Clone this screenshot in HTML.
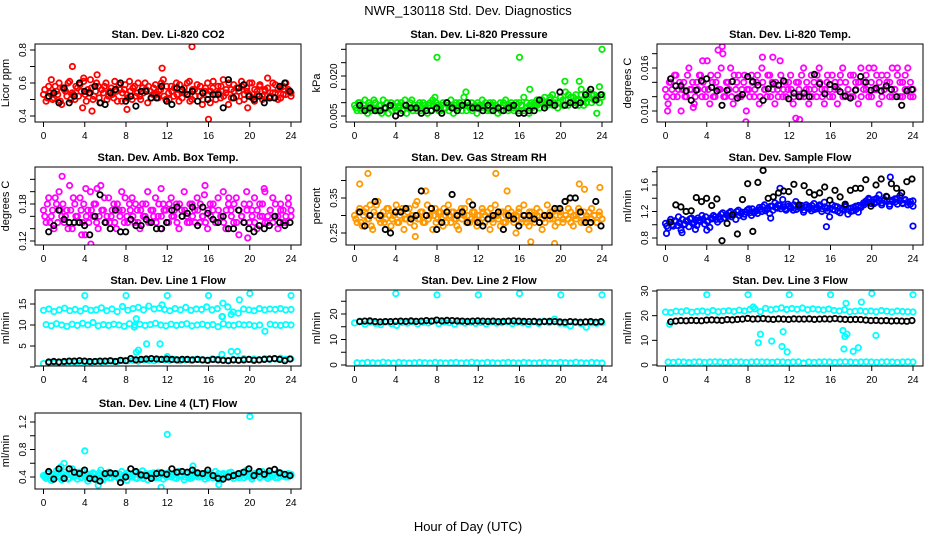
<!DOCTYPE html>
<html><head><meta charset="utf-8"><style>
html,body{margin:0;padding:0;background:#fff;}
svg{display:block;font-family:"Liberation Sans",Arial,sans-serif;}
</style></head><body>
<svg id="chart" width="936" height="540" viewBox="0 0 936 540" xmlns="http://www.w3.org/2000/svg">
<text x="468" y="15" text-anchor="middle" font-size="13">NWR_130118 Std. Dev. Diagnostics</text>
<text x="468" y="531" text-anchor="middle" font-size="13">Hour of Day (UTC)</text>
</svg>
<script>
// ---- data ----
const xTicks = [0,4,8,12,16,20,24];
const p1Color = [0.53,0.49,0.58,0.62,0.51,0.55,0.6,0.47,0.56,0.52,0.61,0.54,0.5,0.57,0.59,0.45,0.53,0.56,0.62,0.5,0.55,0.58,0.48,0.54,0.6,0.52,0.57,0.51,0.55,0.59,0.49,0.56,0.53,0.61,0.5,0.58,0.54,0.52,0.57,0.6,0.48,0.55,0.53,0.59,0.51,0.56,0.62,0.5,0.54,0.58,0.52,0.6,0.49,0.55,0.57,0.53,0.61,0.5,0.56,0.59,0.52,0.47,0.55,0.6,0.48,0.57,0.53,0.58,0.51,0.62,0.54,0.47,0.56,0.59,0.52,0.55,0.61,0.5,0.57,0.53,0.6,0.49,0.55,0.58,0.52,0.56,0.63,0.51,0.54,0.59,0.5,0.57,0.53,0.6,0.55,0.52];
const p1Color2 = [0.56,0.51,0.54,0.5,0.58,0.53,0.49,0.57,0.55,0.6,0.5,0.53,0.58,0.52,0.55,0.61,0.49,0.54,0.57,0.52,0.6,0.51,0.56,0.58,0.5,0.55,0.53,0.61,0.49,0.56,0.54,0.59,0.51,0.55,0.57,0.52,0.6,0.5,0.54,0.56,0.58,0.51,0.57,0.53,0.55,0.6,0.52,0.58,0.5,0.55,0.57,0.53,0.59,0.51,0.54,0.6,0.49,0.56,0.52,0.55,0.58,0.5,0.57,0.53,0.55,0.61,0.5,0.54,0.58,0.52,0.56,0.6,0.51,0.55,0.57,0.49,0.58,0.53,0.55,0.6,0.51,0.56,0.53,0.59,0.5,0.55,0.57,0.52,0.6,0.54,0.56,0.51,0.58,0.53,0.56,0.54];
const p1OutH = [2.8,11.5,14.4,4.7,16,8.1,19.8,3.9,5.2];
const p1OutV = [0.70,0.69,0.82,0.43,0.38,0.44,0.45,0.63,0.65];
const p1Black = [0.52,0.54,0.48,0.57,0.48,0.52,0.6,0.55,0.54,0.58,0.48,0.47,0.54,0.56,0.6,0.49,0.52,0.46,0.55,0.55,0.51,0.51,0.58,0.49,0.47,0.57,0.56,0.53,0.55,0.49,0.54,0.5,0.53,0.53,0.45,0.62,0.51,0.57,0.59,0.52,0.5,0.52,0.48,0.51,0.51,0.58,0.6,0.55];

const p2Color = [0.009,0.007,0.010,0.008,0.011,0.006,0.009,0.008,0.010,0.007,0.009,0.011,0.008,0.006,0.010,0.009,0.007,0.008,0.010,0.009,0.006,0.008,0.011,0.009,0.007,0.010,0.008,0.009,0.006,0.010,0.011,0.008,0.009,0.007,0.010,0.008,0.009,0.011,0.006,0.010,0.008,0.009,0.012,0.007,0.009,0.010,0.008,0.006,0.009,0.011,0.008,0.007,0.010,0.009,0.008,0.006,0.010,0.009,0.011,0.007,0.009,0.008,0.010,0.007,0.009,0.012,0.008,0.006,0.010,0.009,0.011,0.008,0.010,0.012,0.009,0.011,0.013,0.010,0.008,0.012,0.011,0.014,0.009,0.012,0.010,0.013,0.011,0.015,0.009,0.012,0.014,0.010,0.013,0.011,0.016,0.012];
const p2Color2 = [0.008,0.010,0.007,0.009,0.008,0.010,0.007,0.011,0.008,0.009,0.006,0.008,0.010,0.009,0.007,0.008,0.010,0.009,0.007,0.011,0.008,0.010,0.007,0.008,0.009,0.007,0.010,0.008,0.009,0.007,0.009,0.010,0.007,0.009,0.008,0.010,0.007,0.008,0.009,0.008,0.010,0.007,0.009,0.010,0.008,0.007,0.009,0.010,0.008,0.009,0.010,0.008,0.007,0.010,0.009,0.008,0.007,0.010,0.008,0.009,0.010,0.007,0.008,0.010,0.009,0.007,0.010,0.009,0.008,0.010,0.009,0.010,0.011,0.009,0.010,0.012,0.009,0.011,0.010,0.012,0.009,0.011,0.013,0.010,0.012,0.011,0.009,0.013,0.011,0.010,0.012,0.013,0.011,0.012,0.010,0.013];
const p2OutH = [8,16,24,17,20.4,21.8,23.5,10.8,7.8];
const p2OutV = [0.027,0.027,0.030,0.015,0.018,0.018,0.006,0.014,0.012];
const p2Black = [0.009,0.007,0.008,0.007,0.007,0.008,0.009,0.005,0.006,0.009,0.008,0.008,0.006,0.007,0.007,0.008,0.006,0.010,0.008,0.007,0.009,0.010,0.008,0.008,0.007,0.009,0.007,0.008,0.007,0.008,0.009,0.006,0.006,0.007,0.007,0.011,0.008,0.010,0.009,0.014,0.009,0.010,0.009,0.010,0.013,0.015,0.011,0.013];

const p3Color = [0.013,0.011,0.014,0.012,0.015,0.013,0.010,0.014,0.012,0.016,0.013,0.011,0.014,0.015,0.012,0.013,0.017,0.011,0.014,0.012,0.015,0.013,0.018,0.012,0.014,0.016,0.011,0.013,0.015,0.012,0.014,0.010,0.013,0.015,0.012,0.014,0.011,0.016,0.013,0.012,0.015,0.014,0.011,0.013,0.017,0.012,0.014,0.013,0.015,0.011,0.009,0.014,0.012,0.016,0.013,0.011,0.015,0.014,0.012,0.016,0.013,0.011,0.014,0.012,0.015,0.013,0.011,0.014,0.016,0.012,0.013,0.015,0.012,0.014,0.011,0.016,0.013,0.015,0.012,0.014,0.016,0.013,0.011,0.015,0.013,0.014,0.012,0.016,0.013,0.015,0.012,0.014,0.013,0.016,0.012,0.013];
const p3Color2 = [0.012,0.014,0.013,0.015,0.012,0.014,0.013,0.012,0.015,0.013,0.014,0.012,0.013,0.015,0.014,0.012,0.013,0.015,0.012,0.014,0.013,0.016,0.012,0.014,0.013,0.012,0.015,0.014,0.012,0.013,0.015,0.013,0.012,0.014,0.013,0.015,0.012,0.014,0.013,0.015,0.012,0.013,0.014,0.012,0.015,0.013,0.012,0.014,0.013,0.012,0.014,0.013,0.015,0.012,0.014,0.013,0.012,0.013,0.015,0.014,0.012,0.013,0.015,0.013,0.012,0.014,0.013,0.015,0.012,0.014,0.013,0.012,0.015,0.013,0.014,0.012,0.014,0.013,0.016,0.012,0.013,0.015,0.014,0.012,0.013,0.015,0.014,0.012,0.013,0.016,0.014,0.012,0.015,0.013,0.014,0.012];
const p3OutH = [5.1,5.5,9.4,10.4,7.8,13,0.2,3.6,2.7];
const p3OutV = [0.0185,0.019,0.0175,0.0175,0.0085,0.0088,0.0100,0.0170,0.0105];
const p3Black = [0.0145,0.0135,0.0135,0.0128,0.0115,0.0129,0.0142,0.0145,0.0133,0.0128,0.0108,0.0129,0.0141,0.0118,0.0123,0.0148,0.0141,0.0136,0.0115,0.0131,0.0138,0.0136,0.0142,0.0117,0.0125,0.0120,0.0125,0.0120,0.0151,0.0138,0.0124,0.0137,0.0134,0.0127,0.0121,0.0118,0.0129,0.0148,0.0140,0.0129,0.0132,0.0128,0.0135,0.0130,0.0120,0.0108,0.0128,0.0130];

const p4Color = [0.17,0.15,0.19,0.16,0.14,0.18,0.2,0.16,0.15,0.17,0.21,0.14,0.18,0.16,0.19,0.15,0.13,0.17,0.2,0.16,0.18,0.14,0.21,0.17,0.15,0.19,0.16,0.18,0.14,0.17,0.2,0.15,0.16,0.18,0.19,0.15,0.17,0.14,0.18,0.16,0.2,0.15,0.17,0.19,0.16,0.14,0.18,0.17,0.15,0.19,0.16,0.18,0.14,0.17,0.2,0.16,0.15,0.18,0.17,0.19,0.15,0.16,0.21,0.14,0.18,0.17,0.15,0.19,0.16,0.2,0.14,0.18,0.17,0.15,0.19,0.13,0.16,0.18,0.2,0.15,0.17,0.19,0.14,0.18,0.16,0.2,0.15,0.17,0.19,0.16,0.14,0.18,0.17,0.15,0.19,0.16];
const p4Color2 = [0.16,0.18,0.15,0.17,0.19,0.15,0.17,0.18,0.16,0.14,0.17,0.19,0.16,0.15,0.17,0.18,0.16,0.15,0.17,0.18,0.15,0.16,0.17,0.19,0.16,0.15,0.17,0.15,0.18,0.16,0.17,0.19,0.15,0.17,0.16,0.18,0.15,0.17,0.16,0.18,0.15,0.17,0.16,0.15,0.18,0.16,0.17,0.15,0.18,0.16,0.17,0.15,0.18,0.16,0.17,0.15,0.18,0.16,0.15,0.17,0.18,0.16,0.15,0.17,0.16,0.18,0.15,0.17,0.16,0.15,0.17,0.19,0.16,0.18,0.15,0.17,0.16,0.15,0.17,0.18,0.16,0.15,0.17,0.16,0.18,0.15,0.16,0.17,0.15,0.18,0.16,0.17,0.15,0.16,0.18,0.17];
const p4OutH = [1.8,4.1,5.2,4.6,21.4,19.8,3.7,11.4,15.6];
const p4OutV = [0.225,0.205,0.205,0.115,0.205,0.125,0.13,0.205,0.195];
const p4Black = [0.135,0.145,0.17,0.155,0.15,0.15,0.15,0.145,0.13,0.16,0.195,0.15,0.14,0.17,0.135,0.135,0.155,0.145,0.145,0.155,0.15,0.14,0.14,0.15,0.17,0.175,0.16,0.165,0.175,0.145,0.175,0.165,0.155,0.15,0.16,0.14,0.14,0.17,0.15,0.14,0.135,0.145,0.14,0.145,0.16,0.15,0.145,0.15];

const p5Color = [0.30,0.28,0.32,0.27,0.31,0.29,0.33,0.26,0.30,0.34,0.28,0.31,0.29,0.32,0.27,0.30,0.33,0.28,0.31,0.26,0.29,0.32,0.30,0.27,0.34,0.29,0.31,0.28,0.33,0.30,0.26,0.32,0.29,0.31,0.27,0.30,0.33,0.28,0.31,0.29,0.26,0.32,0.30,0.28,0.34,0.29,0.31,0.27,0.30,0.32,0.28,0.31,0.26,0.29,0.33,0.30,0.27,0.31,0.28,0.32,0.29,0.30,0.25,0.31,0.28,0.33,0.29,0.27,0.31,0.30,0.32,0.28,0.26,0.30,0.33,0.29,0.31,0.27,0.32,0.30,0.28,0.34,0.29,0.31,0.27,0.30,0.32,0.28,0.31,0.29,0.26,0.32,0.30,0.28,0.31,0.29];
const p5Color2 = [0.29,0.31,0.28,0.30,0.32,0.29,0.27,0.31,0.33,0.29,0.30,0.28,0.32,0.30,0.29,0.31,0.28,0.30,0.32,0.29,0.31,0.28,0.30,0.33,0.29,0.31,0.28,0.30,0.29,0.32,0.30,0.28,0.31,0.29,0.32,0.28,0.30,0.31,0.29,0.27,0.31,0.29,0.32,0.30,0.28,0.31,0.29,0.30,0.28,0.31,0.30,0.29,0.32,0.28,0.30,0.29,0.31,0.28,0.30,0.29,0.31,0.28,0.30,0.32,0.29,0.30,0.28,0.31,0.29,0.28,0.30,0.31,0.29,0.28,0.30,0.31,0.29,0.30,0.28,0.31,0.29,0.30,0.32,0.28,0.30,0.29,0.31,0.30,0.28,0.30,0.31,0.29,0.30,0.28,0.30,0.29];
const p5OutH = [0.5,1.3,13.7,6.9,14.8,21.8,22.3,23.8,19.4,5.9,17.1];
const p5OutV = [0.39,0.42,0.42,0.37,0.37,0.39,0.375,0.38,0.22,0.24,0.225];
const p5Black = [0.31,0.27,0.3,0.34,0.3,0.26,0.25,0.31,0.31,0.32,0.29,0.3,0.37,0.3,0.32,0.26,0.28,0.31,0.36,0.3,0.31,0.28,0.33,0.28,0.27,0.29,0.3,0.31,0.26,0.3,0.29,0.27,0.3,0.3,0.29,0.28,0.3,0.3,0.32,0.32,0.34,0.35,0.35,0.31,0.28,0.28,0.34,0.27];

const p6Color = [1.02,0.95,1.08,0.98,1.05,1.12,0.92,1.0,1.06,0.97,1.1,1.03,0.99,1.07,1.14,1.01,1.05,0.96,1.09,1.12,1.04,1.08,1.18,1.1,1.13,1.2,1.15,1.08,1.22,1.17,1.12,1.19,1.24,1.14,1.18,1.21,1.26,1.2,1.3,1.23,1.17,1.28,1.33,1.25,1.29,1.38,1.24,1.31,1.27,1.22,1.35,1.28,1.25,1.19,1.3,1.26,1.21,1.32,1.24,1.28,1.2,1.34,1.25,1.12,1.3,1.22,1.27,1.18,1.24,1.29,1.16,1.25,1.21,1.28,1.19,1.26,1.33,1.36,1.4,1.32,1.38,1.34,1.45,1.3,1.36,1.42,1.28,1.35,1.39,1.31,1.44,1.33,1.37,1.3,1.35,1.28];
const p6Color2 = [0.98,1.04,1.0,1.06,0.99,1.03,1.08,1.01,1.05,1.09,1.02,1.07,1.1,1.05,1.08,1.12,1.06,1.1,1.14,1.08,1.12,1.16,1.1,1.15,1.18,1.12,1.16,1.2,1.14,1.19,1.16,1.22,1.18,1.24,1.2,1.17,1.23,1.27,1.21,1.25,1.28,1.22,1.26,1.3,1.24,1.27,1.22,1.28,1.25,1.3,1.23,1.26,1.29,1.22,1.27,1.24,1.29,1.23,1.26,1.3,1.24,1.27,1.21,1.25,1.23,1.28,1.2,1.25,1.22,1.27,1.24,1.2,1.26,1.23,1.29,1.28,1.3,1.34,1.38,1.35,1.32,1.4,1.36,1.33,1.38,1.35,1.31,1.37,1.34,1.4,1.36,1.32,1.38,1.34,1.31,1.36];
const p6OutH = [0.1,1.6,2.9,4.0,10.2,15.6,21.8,24.0,11.1];
const p6OutV = [0.87,0.88,0.93,0.92,1.1,0.97,1.72,0.98,1.55];
const p6Black = [1.04,1.3,1.27,1.2,1.21,1.41,1.35,1.4,1.29,1.39,0.76,1.02,1.15,0.86,1.38,1.62,0.9,1.64,1.82,1.4,1.42,1.48,1.51,1.5,1.61,1.3,1.59,1.49,1.45,1.48,1.57,1.37,1.52,1.42,1.31,1.52,1.55,1.55,1.68,1.28,1.6,1.69,1.43,1.62,1.55,1.48,1.65,1.69];

const p7Upper = [13.5,13.8,13.2,13.6,14.0,13.4,13.7,13.3,13.9,13.5,13.6,14.1,13.4,13.8,13.2,14.4,13.5,13.9,14.2,13.6,14.5,13.8,14.0,13.7,13.4,13.9,13.6,14.2,13.5,13.8,13.7,14.3,13.6,13.9,12.0,14.3,13.1,12.8,13.8,13.6,13.4,13.9,13.6,13.8,13.7,13.9,13.6,13.7];
const p7Middle = [10.1,9.8,10.3,10.0,9.7,10.2,9.9,10.4,10.0,10.6,9.8,10.1,9.9,10.2,10.0,9.7,10.3,10.0,10.2,9.9,10.1,10.4,10.0,9.8,10.2,9.9,10.1,10.3,9.8,10.0,10.2,9.9,10.1,9.6,10.3,10.0,9.9,10.2,10.0,10.1,9.8,10.0,8.5,10.2,10.0,9.9,10.1,10.0];
const p7Lower = [0.8,1.0,0.9,1.1,1.0,1.2,1.1,1.0,1.2,1.1,1.3,1.2,1.3,1.4,1.3,1.5,1.5,1.6,1.4,1.7,1.6,1.5,1.8,1.7,1.6,1.8,1.5,1.7,1.6,1.8,1.7,1.6,1.9,1.8,1.7,1.6,1.8,1.7,2.0,1.8,1.9,1.7,2.0,1.8,1.9,2.1,1.8,1.9];
const p7OutH = [4,8,12,16,20,24,9,10,11.3,9.2,9,18.2,18.8,17.3,12,17.4,18.2,17.3,19,11.5,8.8];
const p7OutV = [17,17,17,17,17.5,17,11.5,5.5,5.5,4,3.5,3.7,3.7,3,2.5,15.2,12.5,12,16,14.8,9.5];
const p7Black = [1.2,1.3,1.2,1.3,1.4,1.4,1.5,1.4,1.3,1.3,1.4,1.4,1.5,1.3,1.6,1.5,2.0,1.7,1.8,1.9,2.0,1.9,1.8,1.9,1.8,1.7,1.8,1.8,1.7,1.8,1.7,1.6,1.8,1.7,1.6,1.5,1.7,1.6,1.7,1.8,1.6,1.7,1.8,1.9,2.0,1.8,1.5,1.9];

const p8Upper = [16.5,17.2,16.0,16.8,16.3,15.8,16.9,16.2,15.5,16.7,16.4,17.0,16.1,16.8,16.5,17.3,16.2,16.9,16.6,16.0,17.1,16.4,16.8,16.3,16.7,16.1,16.9,16.4,16.6,17.0,16.2,16.8,16.5,16.0,16.9,16.3,17.2,16.6,18.0,16.4,16.1,15.3,16.7,16.2,14.8,16.5,16.3,16.6];
const p8Lower = [0.9,0.8,1.0,0.9,0.8,1.1,0.9,0.8,1.0,0.9,0.8,0.9,1.0,0.9,0.8,1.0,0.9,0.8,0.9,1.0,0.8,0.9,1.1,0.9,0.8,1.0,0.9,0.8,0.9,1.0,0.9,0.8,1.0,0.9,0.8,0.9,1.0,0.9,0.8,1.0,0.9,0.8,1.1,0.9,0.8,1.0,0.9,0.8];
const p8OutH = [4,8,12,16,20,24];
const p8OutV = [28,27.5,27.5,28,27.5,27.5];
const p8Black = [17,17.2,17.3,17,16.9,17,17,17.1,17.2,17.1,17.3,17.1,17.2,17.4,17.2,17.6,17.3,17.5,17.4,17.3,17.2,17.1,17.2,17.3,17.2,17.1,17.2,17.0,17.1,17.2,17.3,17.2,17.1,17.0,17.1,16.9,17.0,17.1,17.0,16.9,16.8,17.0,16.9,16.8,16.9,17.0,16.8,17.0];

const p9Upper = [21.5,21.3,21.8,21.6,22.0,21.4,21.7,21.9,21.5,22.1,21.6,21.8,22.0,21.7,22.2,21.9,22.5,22.8,21.6,23.0,22.4,22.7,23.2,22.5,22.9,22.6,23.1,22.4,22.8,22.5,22.3,22.7,22.1,21.9,22.4,21.6,21.8,22.0,21.7,21.9,21.6,22.1,21.8,21.5,21.9,21.7,21.6,21.5];
const p9Lower = [1.2,1.1,1.3,1.2,1.0,1.2,1.3,1.1,1.2,1.3,1.2,1.1,1.2,1.3,1.2,1.1,1.2,1.3,1.2,1.2,1.1,1.3,1.2,1.1,1.2,1.3,0.8,1.2,1.1,1.2,1.3,1.2,1.1,1.2,1.3,1.2,1.1,1.2,1.3,1.2,1.1,1.2,1.3,1.2,1.1,1.2,1.3,1.2];
const p9OutH = [4,8,12,16,20,24,9,9.2,10.3,11.3,11.4,11.8,17.2,17.4,17.6,17.3,18.2,18.7,19,17.5,20.4,8.5,0.4];
const p9OutV = [28.5,28.5,28.5,28.5,29,28.5,9,12.5,9.7,7.5,13.5,5.3,14,11.5,12.5,6.5,5.5,7,25.5,25,12,23.5,16.5];
const p9Black = [17.5,17.8,18,17.9,18.1,18,17.9,18.2,18.3,18.2,18.1,18.4,18.3,18.5,18.6,18.9,18.6,18.7,18.8,18.6,18.5,18.7,18.6,18.5,18.7,18.6,18.6,18.7,18.5,18.6,18.7,18.6,18.8,18.6,18.5,18.4,18.5,18.4,18.2,18.0,18.1,17.9,18.0,17.8,17.9,17.8,17.7,18.0];

const p10Color = [0.42,0.38,0.46,0.35,0.44,0.49,0.40,0.36,0.47,0.43,0.39,0.52,0.41,0.37,0.45,0.48,0.40,0.34,0.44,0.46,0.38,0.42,0.50,0.36,0.43,0.47,0.39,0.41,0.45,0.37,0.48,0.42,0.35,0.44,0.40,0.46,0.38,0.43,0.49,0.41,0.36,0.45,0.42,0.39,0.47,0.44,0.37,0.41,0.46,0.40,0.43,0.38,0.48,0.42,0.36,0.45,0.41,0.39,0.47,0.43,0.40,0.44,0.37,0.46,0.42,0.39,0.48,0.41,0.36,0.45,0.43,0.40,0.47,0.38,0.44,0.42,0.46,0.39,0.50,0.41,0.37,0.45,0.43,0.40,0.48,0.42,0.38,0.46,0.44,0.39,0.47,0.41,0.43,0.40,0.45,0.42];
const p10Color2 = [0.40,0.45,0.38,0.43,0.41,0.46,0.39,0.44,0.42,0.37,0.45,0.40,0.43,0.47,0.39,0.42,0.45,0.38,0.41,0.44,0.40,0.46,0.38,0.43,0.41,0.39,0.45,0.42,0.40,0.44,0.38,0.43,0.46,0.40,0.42,0.39,0.44,0.41,0.38,0.45,0.43,0.40,0.46,0.41,0.39,0.43,0.45,0.40,0.42,0.44,0.39,0.46,0.41,0.43,0.40,0.44,0.38,0.42,0.45,0.40,0.43,0.41,0.46,0.39,0.44,0.42,0.40,0.45,0.38,0.43,0.41,0.46,0.40,0.42,0.44,0.39,0.43,0.47,0.41,0.44,0.40,0.42,0.46,0.39,0.43,0.41,0.45,0.40,0.42,0.44,0.39,0.46,0.41,0.43,0.40,0.44];
const p10OutH = [4,12,20,2,11.4,5.3,17,1.7,14.5];
const p10OutV = [0.78,1.02,1.28,0.6,0.25,0.28,0.29,0.55,0.56];
const p10Black = [0.48,0.37,0.52,0.38,0.52,0.47,0.45,0.5,0.38,0.37,0.34,0.45,0.46,0.45,0.32,0.4,0.52,0.48,0.43,0.42,0.38,0.45,0.46,0.44,0.52,0.47,0.48,0.47,0.5,0.46,0.45,0.5,0.42,0.38,0.37,0.4,0.42,0.45,0.47,0.52,0.42,0.48,0.44,0.49,0.51,0.46,0.44,0.42];

// ---- layout ----
const svg = document.getElementById('chart');
const NS = 'http://www.w3.org/2000/svg';
const colL = [35,346,657];
const rowT = [44,167,290,413];
const rowB = [122,245,366,489];
const W = 266;

function mk(tag, attrs, parent){
  const e = document.createElementNS(NS, tag);
  for (const k in attrs) e.setAttribute(k, attrs[k]);
  (parent||svg).appendChild(e);
  return e;
}

const panels = [
 {id:'co2',title:'Stan. Dev. Li-820 CO2',ylab:'Licor ppm',c:0,r:0,v1:0.4,p1:116,v2:0.8,p2:50,ticks:[0.4,0.5,0.6,0.7,0.8],labels:['0.4','','0.6','','0.8'],col:'#ff0000',color:[p1Color,p1Color2],out:[p1OutH,p1OutV],black:p1Black},
 {id:'pressure',title:'Stan. Dev. Li-820 Pressure',ylab:'kPa',c:1,r:0,v1:0.005,p1:116,v2:0.020,p2:76,ticks:[0.005,0.010,0.015,0.020,0.025,0.030],labels:['0.005','','','0.020','',''],col:'#00ee00',color:[p2Color,p2Color2],out:[p2OutH,p2OutV],black:p2Black},
 {id:'li820-temp',title:'Stan. Dev. Li-820 Temp.',ylab:'degrees C',c:2,r:0,v1:0.010,p1:111,v2:0.016,p2:68,ticks:[0.010,0.012,0.014,0.016,0.018],labels:['0.010','','','0.016',''],col:'#ff00ff',color:[p3Color,p3Color2],out:[p3OutH,p3OutV],black:p3Black},
 {id:'box-temp',title:'Stan. Dev. Amb. Box Temp.',ylab:'degrees C',c:0,r:1,v1:0.12,p1:241,v2:0.18,p2:204,ticks:[0.12,0.14,0.16,0.18,0.20,0.22],labels:['0.12','','','0.18','',''],col:'#ff00ff',color:[p4Color,p4Color2],out:[p4OutH,p4OutV],black:p4Black},
 {id:'rh',title:'Stan. Dev. Gas Stream RH',ylab:'percent',c:1,r:1,v1:0.25,p1:233,v2:0.35,p2:198,ticks:[0.25,0.30,0.35,0.40],labels:['0.25','','0.35',''],col:'#ff9900',color:[p5Color,p5Color2],out:[p5OutH,p5OutV],black:p5Black},
 {id:'sample-flow',title:'Stan. Dev. Sample Flow',ylab:'ml/min',c:2,r:1,v1:0.8,p1:238,v2:1.6,p2:185,ticks:[0.8,1.0,1.2,1.4,1.6,1.8],labels:['0.8','','1.2','','1.6',''],col:'#0000ff',color:[p6Color,p6Color2],out:[p6OutH,p6OutV],black:p6Black},
 {id:'line1-flow',title:'Stan. Dev. Line 1 Flow',ylab:'ml/min',c:0,r:2,v1:5,p1:346,v2:15,p2:304,ticks:[0,5,10,15],labels:['','5','10','15'],col:'#00ffff',color:[p7Upper,p7Middle,p7Lower],out:[p7OutH,p7OutV],black:p7Black},
 {id:'line2-flow',title:'Stan. Dev. Line 2 Flow',ylab:'ml/min',c:1,r:2,v1:0,p1:365,v2:20,p2:314,ticks:[0,5,10,15,20,25],labels:['0','','10','','20',''],col:'#00ffff',color:[p8Upper,p8Lower],out:[p8OutH,p8OutV],black:p8Black},
 {id:'line3-flow',title:'Stan. Dev. Line 3 Flow',ylab:'ml/min',c:2,r:2,v1:0,p1:365,v2:30,p2:291,ticks:[0,10,20,30],labels:['0','10','20','30'],col:'#00ffff',color:[p9Upper,p9Lower],out:[p9OutH,p9OutV],black:p9Black},
 {id:'line4-flow',title:'Stan. Dev. Line 4 (LT) Flow',ylab:'ml/min',c:0,r:3,v1:0.4,p1:477,v2:1.2,p2:422,ticks:[0.4,0.6,0.8,1.0,1.2],labels:['0.4','','0.8','','1.2'],col:'#00ffff',color:[p10Color,p10Color2],out:[p10OutH,p10OutV],black:p10Black}
];

function pt(g, x, y, col, sw){
  const c = mk('circle',{cx:x.toFixed(1),cy:y.toFixed(1),r:2.7,fill:'none',stroke:col,'stroke-width':sw},g);
  
  
}

panels.forEach((p,pi)=>{
  const L = colL[p.c], T = rowT[p.r], B = rowB[p.r], R = L + W;
  const xs = h => L + 8.5 + h * (247.5/24);
  const ys = v => p.p1 + (v - p.v1) * (p.p2 - p.p1) / (p.v2 - p.v1);
  const g = mk('g',{});
  
  
  const cp = mk('clipPath',{id:'clip'+pi},g);
  mk('rect',{x:L,y:T,width:W,height:B-T},cp);
  const t = mk('text',{x:(L+R)/2,y:T-6,'text-anchor':'middle','font-size':11,'font-weight':'bold'},g);
  t.textContent = p.title;
  
  
  const yl = mk('text',{x:L-26,y:(T+B)/2,'text-anchor':'middle','font-size':11,transform:`rotate(-90 ${L-26} ${(T+B)/2})`},g);
  yl.textContent = p.ylab;
  
  
  const pg = mk('g',{'clip-path':`url(#clip${pi})`},g);
  
  
  p.color.forEach((arr,k)=>{
    const off = (k % 2) * 12 / arr.length;
    arr.forEach((v,i)=>pt(pg, xs(off + i*(24-off)/(arr.length-1)), ys(v), p.col, 1.8));
  });
  p.out[0].forEach((h,i)=>pt(pg, xs(h), ys(p.out[1][i]), p.col, 1.8));
  p.black.forEach((v,i)=>pt(pg, xs(0.5 + i*23.4/(p.black.length-1)), ys(v), '#000', 1.8));
  const box = mk('rect',{x:L,y:T,width:W,height:B-T,fill:'none',stroke:'#000','stroke-width':1},g);
  
  
  xTicks.forEach(h=>{
    const x = xs(h);
    mk('line',{x1:x,x2:x,y1:B,y2:B+5,stroke:'#000'},g);
    const tl = mk('text',{x:x,y:B+17,'text-anchor':'middle','font-size':10},g);
    tl.textContent = h;
    
    
  });
  p.ticks.forEach((v,i)=>{
    const y = ys(v);
    if (y < T-2 || y > B+3) return;
    mk('line',{x1:L-5,x2:L,y1:y,y2:y,stroke:'#000'},g);
    const lab = p.labels[i];
    if (lab) {
      const tl = mk('text',{x:L-9,y:y,'text-anchor':'middle','font-size':10,transform:`rotate(-90 ${L-9} ${y})`},g);
      tl.textContent = lab;
      
      
    }
  });
});
</script>
</body></html>
